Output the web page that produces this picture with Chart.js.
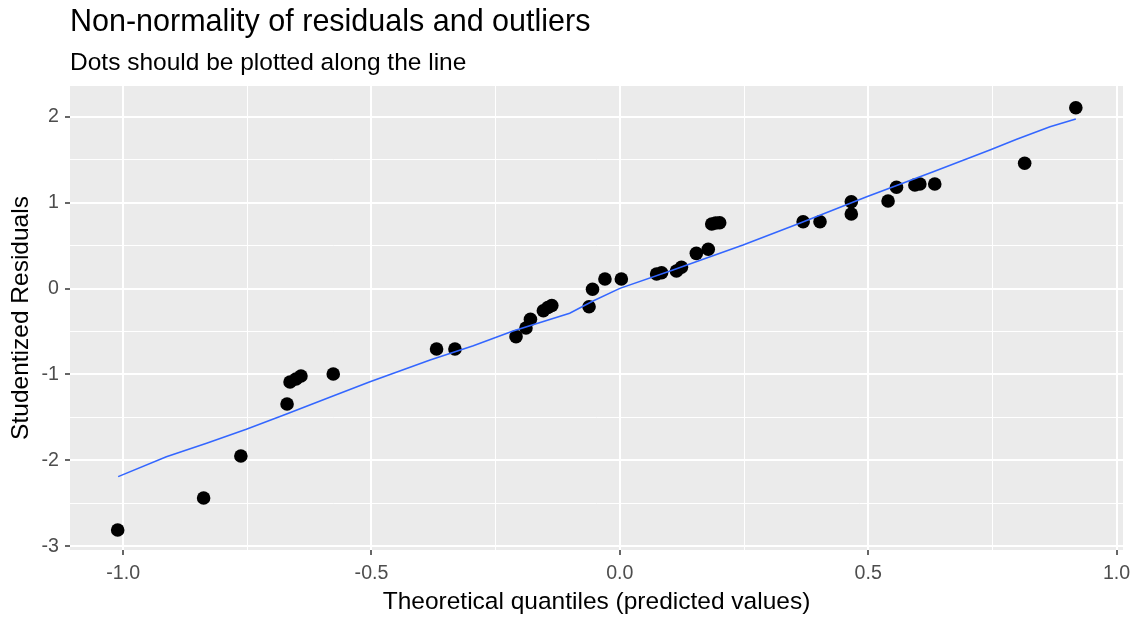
<!DOCTYPE html>
<html lang="en">
<head>
<meta charset="UTF-8">
<title>Non-normality of residuals and outliers</title>
<script src="https://cdn.jsdelivr.net/npm/chart.js"></script>
<style>
  html, body { margin:0; padding:0; background:#fff; }
  #wrap { width:1138px; height:620px; }
</style>
</head>
<body>
<div id="wrap"><canvas id="qq" width="1138" height="620"></canvas></div>
<script>
  // observed points: theoretical quantile vs studentized residual
  const pointX = [-1.011, -0.838, -0.763, -0.670, -0.664, -0.652, -0.642, -0.577, -0.369, -0.332,
                  -0.209, -0.189, -0.180, -0.154, -0.145, -0.137, -0.062, -0.055, -0.030, 0.003,
                  0.074, 0.084, 0.114, 0.124, 0.154, 0.178, 0.185, 0.193, 0.201, 0.369,
                  0.403, 0.466, 0.466, 0.540, 0.557, 0.594, 0.604, 0.634, 0.815, 0.918];
  const pointY = [-2.808, -2.436, -1.948, -1.343, -1.087, -1.052, -1.017, -0.994, -0.703, -0.703,
                  -0.560, -0.459, -0.358, -0.258, -0.221, -0.198, -0.212, -0.009, 0.110, 0.110,
                  0.169, 0.184, 0.203, 0.247, 0.409, 0.456, 0.750, 0.762, 0.765, 0.777,
                  0.777, 1.009, 0.866, 1.017, 1.177, 1.203, 1.215, 1.215, 1.456, 2.102];

  // reference line (blue)
  const lineX = [-1.010, -0.913, -0.832, -0.752, -0.671, -0.584, -0.503, -0.382, -0.295, -0.215,
                 -0.101, -0.054, 0.000, 0.107, 0.248, 0.362, 0.497, 0.631, 0.745, 0.799, 0.866, 0.918];
  const lineY = [-2.188, -1.956, -1.800, -1.637, -1.459, -1.265, -1.084, -0.831, -0.665, -0.494,
                 -0.288, -0.145, 0.002, 0.215, 0.506, 0.758, 1.067, 1.358, 1.610, 1.735, 1.881, 1.971];

  const xTicks = [-1.0, -0.5, 0.0, 0.5, 1.0];
  const xMinor = [-0.75, -0.25, 0.25, 0.75];
  const yTicks = [-3, -2, -1, 0, 1, 2];
  const yMinor = [-2.5, -1.5, -0.5, 0.5, 1.5];
  const xRange = [-1.107, 1.013];
  const yRange = [-3.041, 2.355];

  const titleText = "Non-normality of residuals and outliers";
  const subtitleText = "Dots should be plotted along the line";

  Chart.defaults.font.family = "'Liberation Sans', Arial, sans-serif";

  // grey ggplot panel
  const panelBg = {
    id: "panelBg",
    beforeDraw(chart) {
      const {ctx, chartArea: a} = chart;
      ctx.save();
      ctx.fillStyle = "#EBEBEB";
      ctx.fillRect(a.left, a.top, a.right - a.left, a.bottom - a.top);
      ctx.restore();
    }
  };

  // title + subtitle aligned with the panel like ggplot
  const headings = {
    id: "headings",
    afterDraw(chart) {
      const {ctx, chartArea: a} = chart;
      ctx.save();
      ctx.fillStyle = "#000";
      ctx.textAlign = "left";
      ctx.textBaseline = "alphabetic";
      ctx.font = "30.5px 'Liberation Sans', Arial, sans-serif";
      ctx.fillText(titleText, a.left, 31);
      ctx.font = "24.5px 'Liberation Sans', Arial, sans-serif";
      ctx.fillText(subtitleText, a.left, 70);
      ctx.restore();
    }
  };

  const isMajor = (list) => (c) => list.includes(c.tick.value);
  const setTicks = (major, minor) => (scale) => {
    scale.ticks = major.concat(minor).sort((a, b) => a - b).map(v => ({value: v}));
  };

  new Chart(document.getElementById("qq"), {
    type: "scatter",
    data: {
      datasets: [
        {
          data: lineX.map((x, i) => ({x, y: lineY[i]})),
          showLine: true,
          borderColor: "#3366FF",
          borderWidth: 1.5,
          pointRadius: 0,
          tension: 0,
          order: 0
        },
        {
          data: pointX.map((x, i) => ({x, y: pointY[i]})),
          backgroundColor: "#000",
          borderWidth: 0,
          pointRadius: 6.8,
          order: 1
        }
      ]
    },
    options: {
      responsive: false,
      animation: false,
      layout: { padding: { top: 86, left: 0, right: 15, bottom: 0 } },
      plugins: { legend: { display: false }, tooltip: { enabled: false } },
      scales: {
        x: {
          type: "linear",
          min: xRange[0], max: xRange[1],
          afterBuildTicks: setTicks(xTicks, xMinor),
          afterFit: (s) => { s.height = 70; },
          border: { display: false },
          grid: {
            color: "#FFFFFF",
            lineWidth: (c) => isMajor(xTicks)(c) ? 2 : 1,
            tickLength: 5,
            tickWidth: 1.5,
            tickColor: (c) => isMajor(xTicks)(c) ? "#333333" : "rgba(0,0,0,0)"
          },
          ticks: {
            autoSkip: false, maxRotation: 0, padding: 7,
            color: "#4D4D4D", font: { size: 19.6 },
            callback: (v) => xTicks.includes(v) ? v.toFixed(1) : ""
          },
          title: {
            display: true, text: "Theoretical quantiles (predicted values)",
            color: "#000", font: { size: 24.5 }, padding: { top: 0, bottom: 3 }
          }
        },
        y: {
          type: "linear",
          min: yRange[0], max: yRange[1],
          afterBuildTicks: setTicks(yTicks, yMinor),
          afterFit: (s) => { s.width = 70; },
          border: { display: false },
          grid: {
            color: "#FFFFFF",
            lineWidth: (c) => isMajor(yTicks)(c) ? 2 : 1,
            tickLength: 5,
            tickWidth: 1.5,
            tickColor: (c) => isMajor(yTicks)(c) ? "#333333" : "rgba(0,0,0,0)"
          },
          ticks: {
            autoSkip: false, padding: 6,
            color: "#4D4D4D", font: { size: 19.6 },
            callback: (v) => yTicks.includes(v) ? String(v) : ""
          },
          title: {
            display: true, text: "Studentized Residuals",
            color: "#000", font: { size: 24.5 }, padding: { top: 7, bottom: 0 }
          }
        }
      }
    },
    plugins: [panelBg, headings]
  });
</script>
</body>
</html>
